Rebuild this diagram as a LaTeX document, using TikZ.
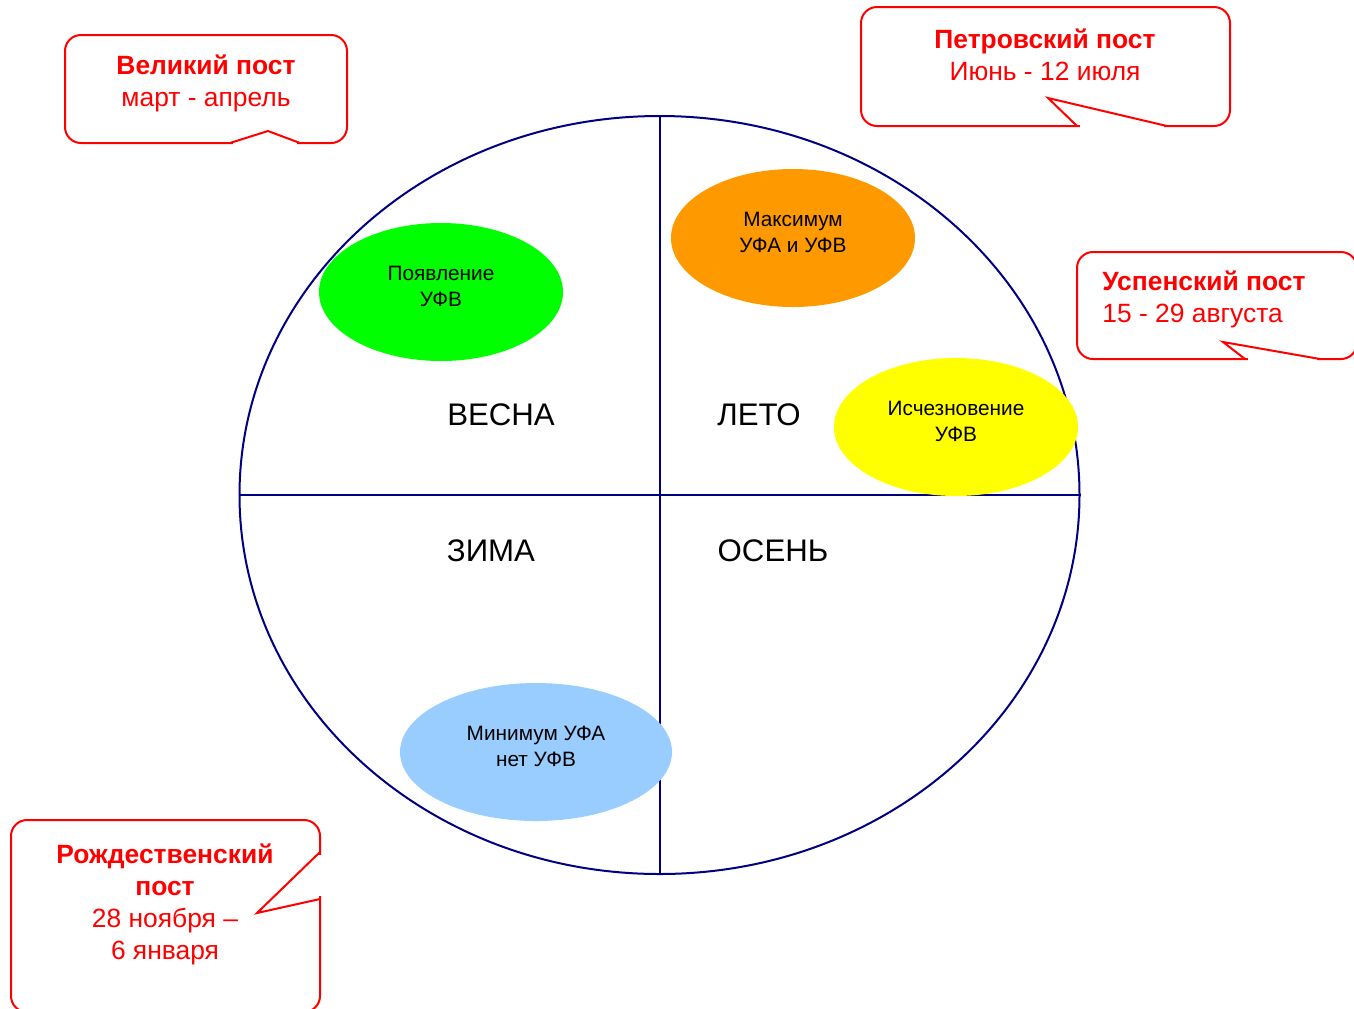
\documentclass[tikz,border=0pt]{standalone}
\usepackage{fontspec}
\setmainfont{Liberation Sans}
\usetikzlibrary{shapes.geometric}
\definecolor{ringblue}{HTML}{000080}
\definecolor{fastred}{HTML}{FF0000}
\definecolor{springgreen}{HTML}{00FF00}
\definecolor{summerorange}{HTML}{FF9900}
\definecolor{fadeyellow}{HTML}{FFFF00}
\definecolor{winterblue}{HTML}{99CCFF}
\tikzset{
  ring/.style={draw=ringblue, line width=1pt, ellipse, inner sep=0pt},
  axis/.style={draw=ringblue, line width=1pt},
  blob/.style={ellipse, inner sep=0pt, minimum width=122pt, minimum height=69pt},
  blobtext/.style={align=center, font=\fontsize{10.4}{13}\selectfont},
  season/.style={font=\fontsize{15.6}{18}\selectfont},
  callbox/.style={draw=fastred, line width=1pt, rounded corners=8pt, inner sep=0pt, fill=white},
  calltext/.style={text=fastred, align=center, font=\fontsize{13.2}{16}\selectfont},
  tailgap/.style={draw=white, line width=1.8pt},
  tail/.style={draw=fastred, line width=1pt, line join=miter},
}
\begin{document}
\begin{tikzpicture}[x=0.5pt, y=-0.5pt]
\useasboundingbox (0,0) rectangle (1354,1008);

% the year as a ring split into four seasons
\node[ring, minimum width=420pt, minimum height=379pt] (year) at (659.5,495) {};
\draw[axis] (year.north) -- (year.south);
\draw[axis] (year.west) -- (year.east);

\node[season] (spring) at (501,415) {ВЕСНА};
\node[season] (summer) at (759,415) {ЛЕТО};
\node[season] (winter) at (491,551) {ЗИМА};
\node[season] (autumn) at (773,551) {ОСЕНЬ};

% seasonal events
\node[blob, fill=springgreen] (appear) at (441,292) {};
\node[blobtext] (appeartxt) at (441,286) {Появление\\УФВ};
\node[blob, fill=summerorange] (maxim) at (793,238) {};
\node[blobtext] (maximtxt) at (793,232) {Максимум\\УФА и УФВ};
\node[blob, fill=fadeyellow] (vanish) at (956,427) {};
\node[blobtext] (vanishtxt) at (956,421) {Исчезновение\\УФВ};
\node[blob, fill=winterblue, minimum width=136pt] (minim) at (536,752) {};
\node[blobtext] (minimtxt) at (536,746) {Минимум УФА\\нет УФВ};

% fasting periods
\node[callbox, minimum width=141pt, minimum height=54pt] (great) at (206,89) {};
\draw[tailgap] (233,143) -- (297,143);
\draw[tail] (230,143) -- (268,131) -- (300,143);
\node[calltext] (greattxt) at (206,83) {\textbf{Великий пост}\\март - апрель};

\node[callbox, minimum width=184.5pt, minimum height=59.5pt] (peter) at (1045.5,66.5) {};
\draw[tailgap] (1080,126) -- (1164,126);
\draw[tail] (1077,126) -- (1048,98) -- (1167,126);
\node[calltext] (petertxt) at (1045,55) {\textbf{Петровский пост}\\Июнь - 12 июля};

\node[callbox, minimum width=140pt, minimum height=53.5pt] (dorm) at (1217,305.5) {};
\draw[tailgap] (1248,359) -- (1317,359);
\draw[tail] (1245,359) -- (1223,342) -- (1320,359);
\node[calltext, align=left, anchor=west, inner sep=0pt] (dormtxt) at (1102,299) {\textbf{Успенский пост}\\15 - 29 августа};

\node[callbox, minimum width=154.5pt, minimum height=96pt] (nativ) at (165.5,916) {};
\draw[tailgap] (320,855) -- (320,896);
\draw[tail] (320,852) -- (257,913) -- (320,899);
\node[calltext] (nativtxt) at (165,904) {\textbf{Рождественский}\\\textbf{пост}\\28 ноября –\\6 января};
\end{tikzpicture}
\end{document}
